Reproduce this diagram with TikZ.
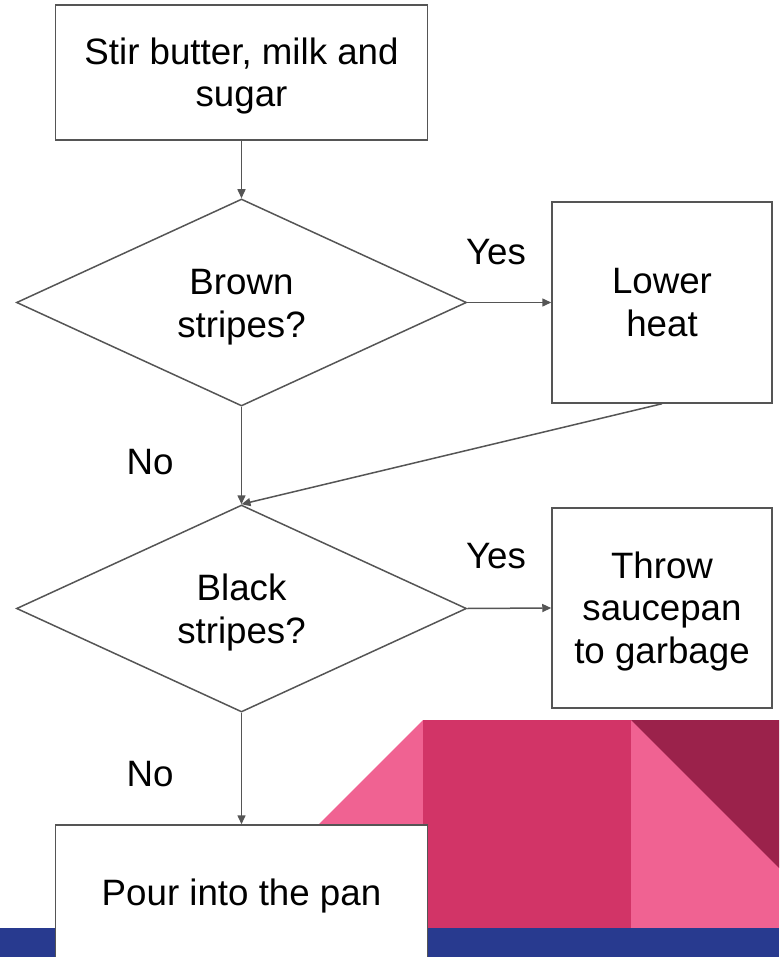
\documentclass[tikz,border=0pt]{standalone}
\usepackage{fontspec}
\setmainfont{Liberation Sans}
\usetikzlibrary{shapes.geometric,arrows.meta}
\definecolor{linegray}{RGB}{85,85,85}
\definecolor{pinkA}{RGB}{240,98,146}
\definecolor{crimson}{RGB}{210,52,103}
\definecolor{darkrose}{RGB}{155,34,75}
\definecolor{navy}{RGB}{40,58,143}
\tikzset{
  box/.style={draw=linegray, line width=1.5pt, rectangle, inner sep=0pt, align=center, fill=white},
  dia/.style={draw=linegray, line width=1.5pt, diamond, shape aspect=2.17, inner sep=0pt, align=center},
  arr/.style={draw=linegray, line width=1.5pt, -{Triangle[length=9pt,width=8pt]}},
  lbl/.style={inner sep=0pt}
}
\begin{document}
\begin{tikzpicture}[x=1pt,y=-1pt, font=\fontsize{36.7}{42.5}\selectfont]
\useasboundingbox (0,0) rectangle (779,957);
\clip (0,0) rectangle (779,957);
% decorative background
\fill[pinkA] (423,720) -- (215,928) -- (423,928) -- cycle;
\fill[crimson] (423,720) rectangle (631,928);
\fill[pinkA] (631,720) rectangle (779,928);
\fill[darkrose] (631,720) -- (779,720) -- (779,868) -- cycle;
\fill[navy] (0,928) rectangle (779,957);
% nodes
\node[box, minimum width=372, minimum height=135] (stir) at (241.5,72.5) {\rule{0pt}{34pt}Stir butter, milk and\\sugar};
\node[dia, minimum width=450, minimum height=207] (d1) at (241.5,302.5) {\rule{0pt}{35pt}Brown\\stripes?};
\node[box, minimum width=220, minimum height=201] (lh) at (662,302.5) {Lower\\heat};
\node[dia, minimum width=450, minimum height=207] (d2) at (241.5,608.5) {\rule{0pt}{35pt}Black\\stripes?};
\node[box, minimum width=220, minimum height=200] (th) at (662,608) {\rule{0pt}{33pt}Throw\\saucepan\\to garbage};
\node[box, minimum width=372, minimum height=143] (pour) at (241.5,896.5) {Pour into the pan};
% labels
\node[lbl] (yes1) at (496,252) {Yes};
\node[lbl] (yes2) at (496,556) {Yes};
\node[lbl] (no1) at (150,462) {No};
\node[lbl] (no2) at (150,774) {No};
% connectors
\draw[arr] (stir.south) -- (d1.north);
\draw[arr] (d1.east) -- (lh.west);
\draw[arr] (d1.south) -- (d2.north);
\draw[arr] (lh.south) -- (d2.north);
\draw[arr] (d2.east) -- (th.west);
\draw[arr] (d2.south) -- (pour.north);
\end{tikzpicture}
\end{document}
